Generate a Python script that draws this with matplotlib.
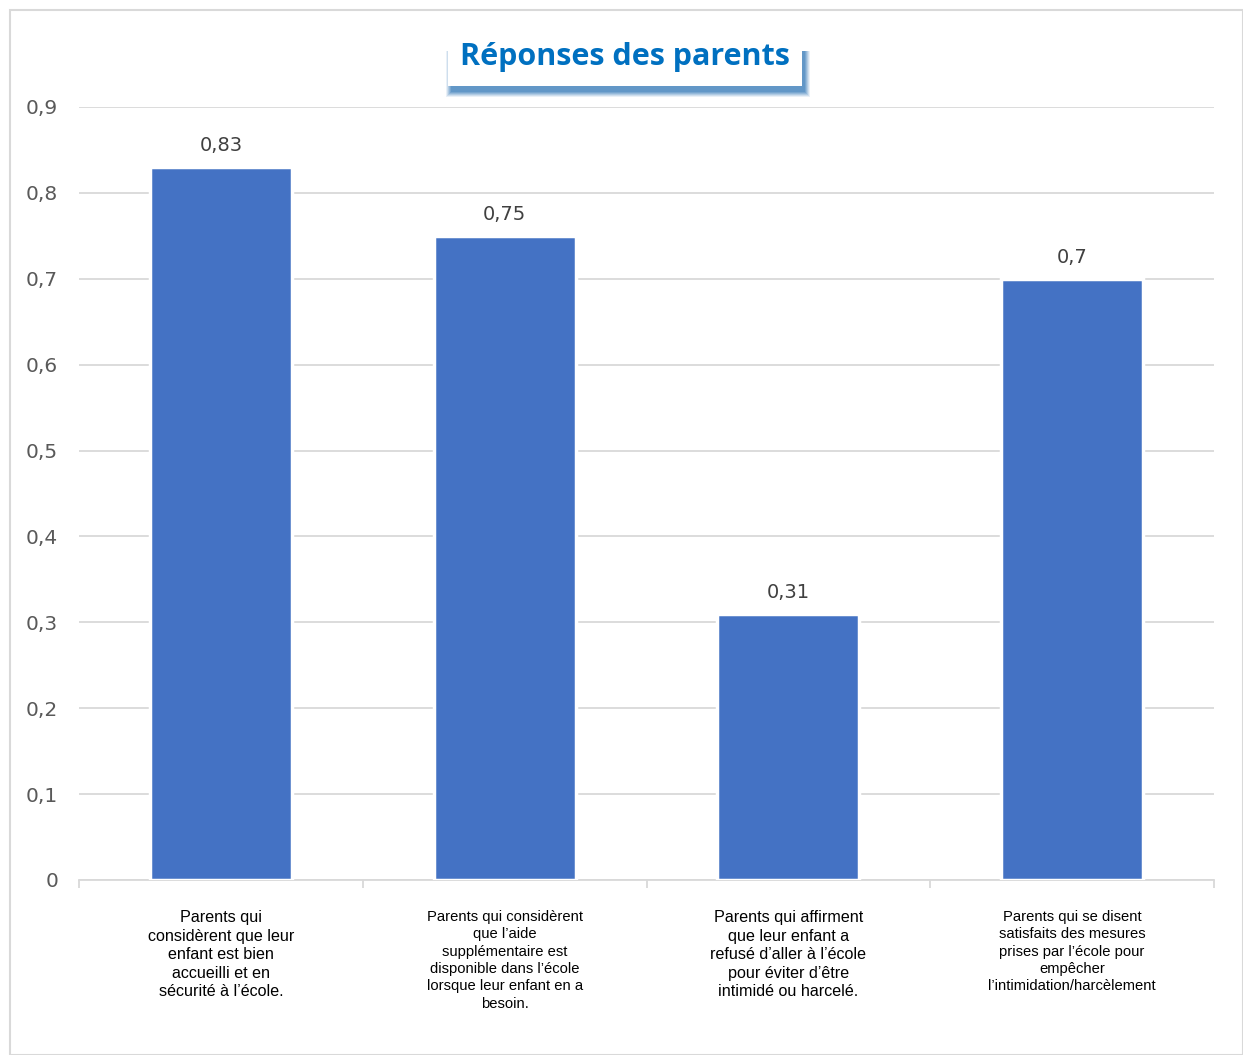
import matplotlib.pyplot as plt
from matplotlib.patches import Rectangle

categories = [
    "Parents qui\nconsidèrent que leur\nenfant est bien\naccueilli et en\nsécurité à l\u2019école.",
    "Parents qui considèrent\nque l\u2019aide\nsupplémentaire est\ndisponible dans l\u2019école\nlorsque leur enfant en a\nbesoin.",
    "Parents qui affirment\nque leur enfant a\nrefusé d\u2019aller à l\u2019école\npour éviter d\u2019être\nintimidé ou harcelé.",
    "Parents qui se disent\nsatisfaits des mesures\nprises par l\u2019école pour\nempêcher\nl\u2019intimidation/harcèlement",
]
cat_sizes = [11.6, 10.6, 11.6, 10.6]
values = [0.83, 0.75, 0.31, 0.7]
value_labels = ["0,83", "0,75", "0,31", "0,7"]
yticks = [0, 0.1, 0.2, 0.3, 0.4, 0.5, 0.6, 0.7, 0.8, 0.9]
ytick_labels = ["0", "0,1", "0,2", "0,3", "0,4", "0,5", "0,6", "0,7", "0,8", "0,9"]

fig = plt.figure(figsize=(12.43, 10.55), dpi=100)
ax = fig.add_axes([0.0636, 0.1659, 0.9131, 0.7327])

x = range(len(values))
bars = ax.bar(x, values, width=0.5, color="#4472C4", edgecolor="white", linewidth=2.5, zorder=3)

for i, v in enumerate(values):
    ax.text(i, v + 0.014, value_labels[i], ha="center", va="bottom", fontsize=14,
            color="#404040", family="DejaVu Sans")

ax.set_xlim(-0.5, 3.5)
ax.set_ylim(0, 0.9)
ax.set_yticks(yticks)
ax.set_yticklabels(ytick_labels, fontsize=14.5, color="#595959")
ax.yaxis.grid(True, color="#d9d9d9", linewidth=1.3, zorder=0)
ax.tick_params(axis="y", length=0, pad=15)

# category boundary ticks on x axis
ax.set_xticks([-0.5, 0.5, 1.5, 2.5, 3.5])
ax.set_xticklabels([])
ax.tick_params(axis="x", length=6, color="#d9d9d9", width=1.3, direction="out")
for i, lab in enumerate(categories):
    ax.text(i, -0.035, lab, ha="center", va="top", fontsize=cat_sizes[i],
            family="Liberation Sans", color="black", linespacing=1.3)

for s in ["top", "right", "left"]:
    ax.spines[s].set_visible(False)
ax.spines["bottom"].set_color("#d9d9d9")
ax.spines["bottom"].set_linewidth(1.3)

# outer border
fig.patches.append(Rectangle((10 / 1243, 0), 1 - 10 / 1243, 1 - 10 / 1055, transform=fig.transFigure,
                             fill=False, edgecolor="#d9d9d9", linewidth=1.5))

# title box with soft blue shadow underneath
for k in range(6):
    grow = 6 - k
    fig.patches.append(Rectangle(((452 - grow) / 1243, 1 - (91 + grow) / 1055), (352 + 2 * grow) / 1243,
                                 (40 + grow) / 1055, transform=fig.transFigure,
                                 facecolor="#2E75B6", edgecolor="none", alpha=0.1 + 0.04 * k, zorder=1))
fig.patches.append(Rectangle((448 / 1243, 1 - 86 / 1055), 354 / 1243, 56 / 1055, transform=fig.transFigure,
                             facecolor="white", edgecolor="none", zorder=2))
fig.text(625 / 1243, 1 - 57 / 1055, "Réponses des parents", ha="center", va="center",
         fontsize=22, fontweight="bold", color="#0070C0", family="Open Sans", zorder=3)

fig.savefig("out.png", dpi=100, facecolor="white")
